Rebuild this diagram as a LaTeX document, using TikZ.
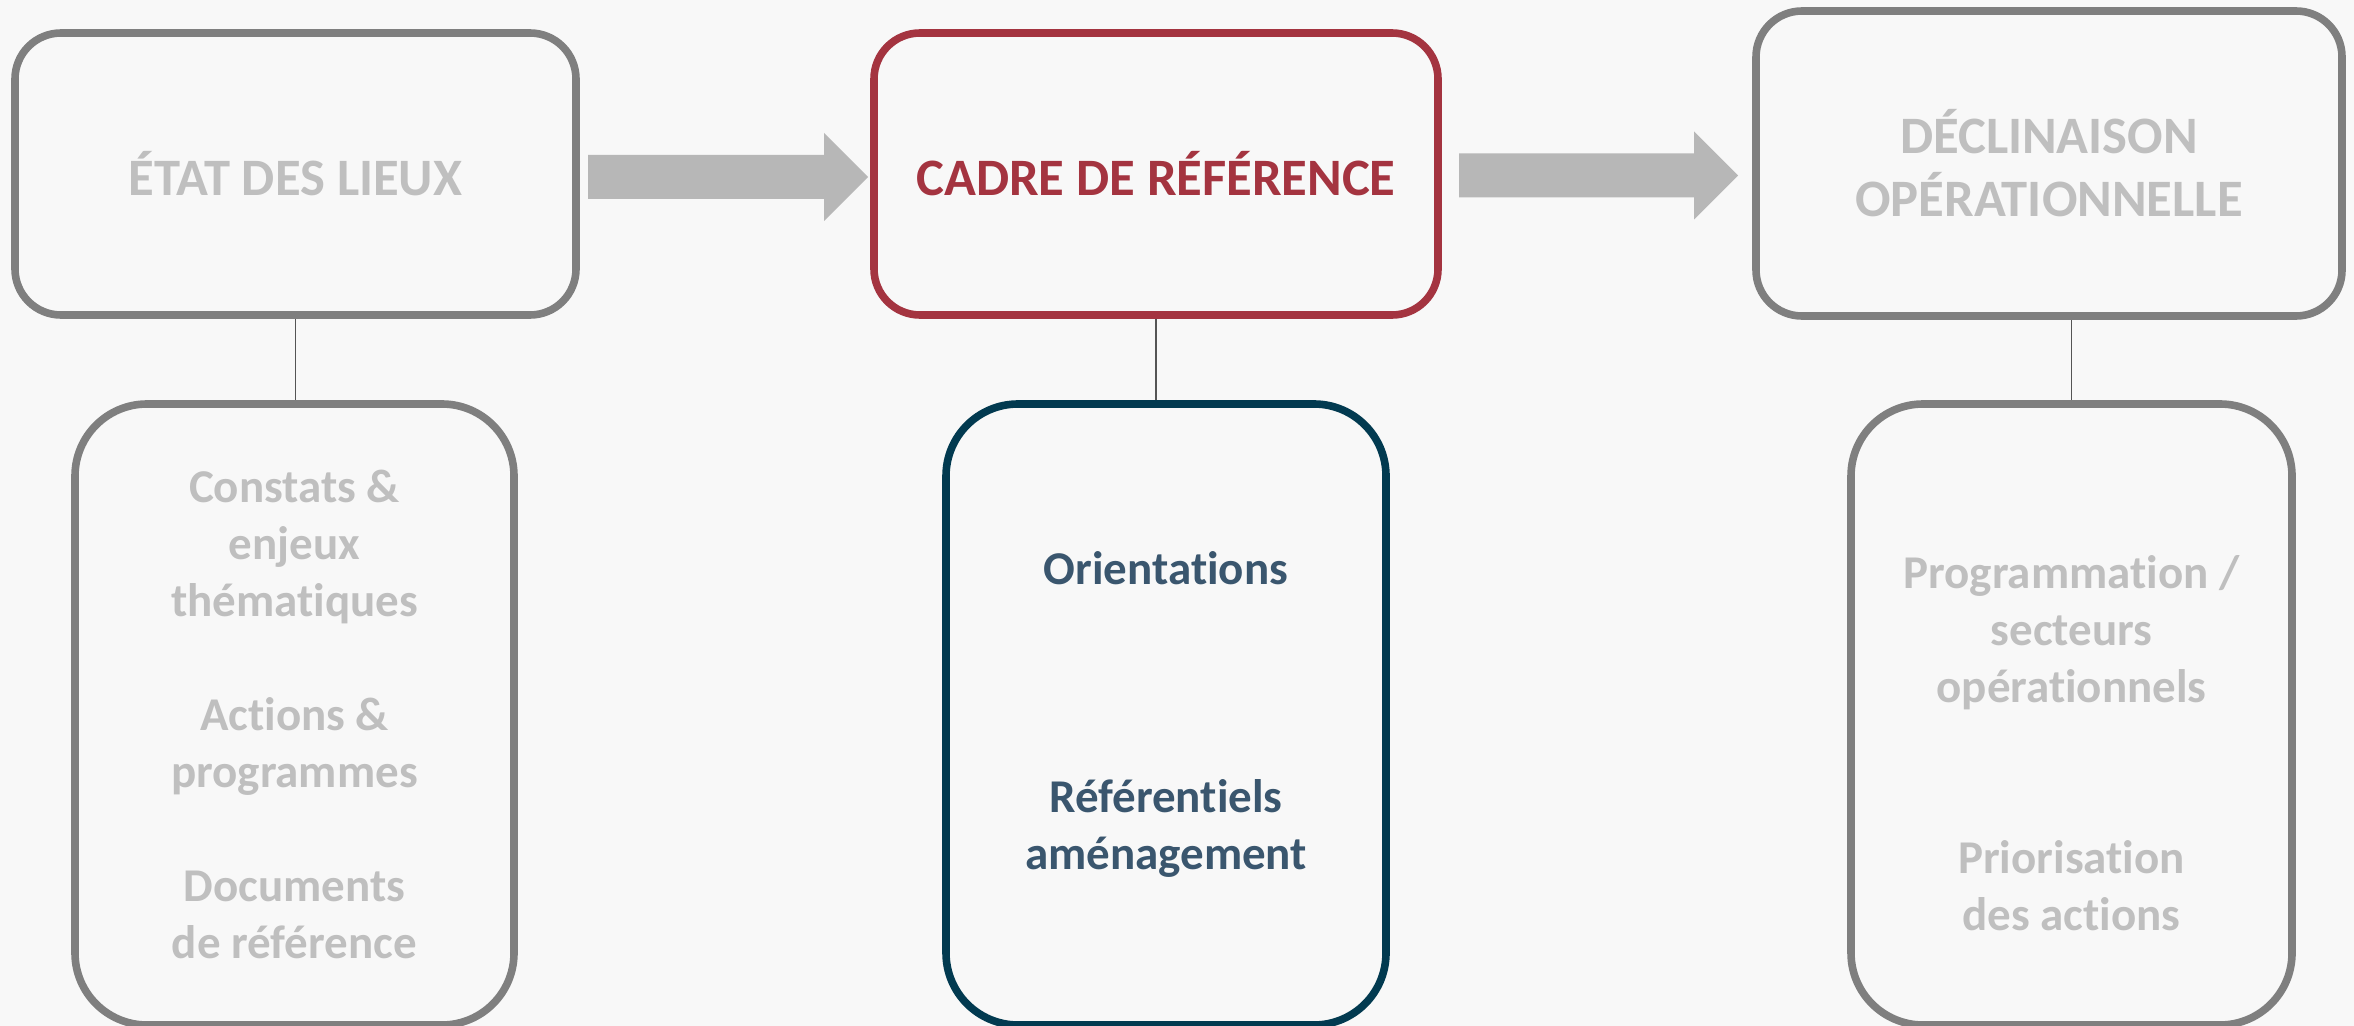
\documentclass[tikz,border=0pt]{standalone}
\usepackage{fontspec}
\setmainfont{Carlito}[Ligatures={NoCommon,NoRare}]
\usetikzlibrary{calc}
\definecolor{bgcol}{HTML}{F8F8F8}
\definecolor{boxgray}{HTML}{7F7F7F}
\definecolor{txtgray}{HTML}{BFBFBF}
\definecolor{arrowgray}{HTML}{B7B7B7}
\definecolor{refred}{HTML}{A43440}
\definecolor{darkteal}{HTML}{023A50}
\definecolor{slate}{HTML}{3A566E}
\definecolor{linkgray}{HTML}{555555}
\newcommand{\blockarrow}[2]{%
  \fill[arrowgray] ($(#1)+(0,-22)$) -- ($(#2)+(-44,-22)$) -- ($(#2)+(-44,-44)$) -- (#2)
    -- ($(#2)+(-44,44)$) -- ($(#2)+(-44,22)$) -- ($(#1)+(0,22)$) -- cycle;}
\begin{document}
\begin{tikzpicture}[x=0.5pt,y=-0.5pt,
  topbox/.style={draw=boxgray, line width=3.8pt, rounded corners=23pt, inner sep=0pt,
    text=txtgray, align=center, font=\fontsize{26.3}{31.5}\selectfont\bfseries},
  lowbox/.style={draw=boxgray, line width=3.8pt, rounded corners=36pt, inner sep=0pt,
    text=txtgray, align=center, font=\fontsize{23.5}{28.5}\selectfont\bfseries,
    minimum height=310.5pt},
  lowtext/.style={inner sep=0pt, text=txtgray, align=center,
    font=\fontsize{23.5}{28.5}\selectfont\bfseries},
  link/.style={draw=linkgray, line width=0.75pt}]
\fill[bgcol] (0,0) rectangle (2354,1026);
\useasboundingbox (0,0) rectangle (2354,1026);

% top boxes
\node[topbox, minimum width=280.5pt, minimum height=141pt] (b1) at (295.5,174) {ÉTAT DES LIEUX};
\node[topbox, draw=refred, text=refred, minimum width=282pt, minimum height=141pt] (b2) at (1156,174) {CADRE DE RÉFÉRENCE};
\node[topbox, minimum width=293pt, minimum height=152.5pt] (b3) at (2049,163.5) {DÉCLINAISON\\OPÉRATIONNELLE};

% lower boxes
\node[lowbox, minimum width=219.5pt] (l1) at (294.5,714.5)
  {Constats \&\\enjeux\\thématiques\\[28.5pt]Actions \&\\programmes\\[28.5pt]Documents\\de référence};
\node[lowbox, draw=darkteal, text=slate, minimum width=220pt] (l2) at (1166,714.5)
  {Orientations\\[85.5pt]Référentiels\\aménagement};
\node[lowbox, minimum width=220.5pt] (l3) at (2071.5,714.5) {};
\node[lowtext] (l3t) at (2071.5,743)
  {Programmation /\\secteurs\\opérationnels\\[57pt]Priorisation\\des actions};

% block arrows
\coordinate (a1tail) at (588,177);
\coordinate (a1tip) at (868,177);
\coordinate (a2tail) at (1459,175.5);
\coordinate (a2tip) at (1738,175.5);
\blockarrow{a1tail}{a1tip}
\blockarrow{a2tail}{a2tip}

% connectors
\draw[link] (b1.south) -- (b1.south |- l1.north);
\draw[link] (b2.south) -- (b2.south |- l2.north);
\draw[link] (l3.north) -- (l3.north |- b3.south);
\end{tikzpicture}
\end{document}
